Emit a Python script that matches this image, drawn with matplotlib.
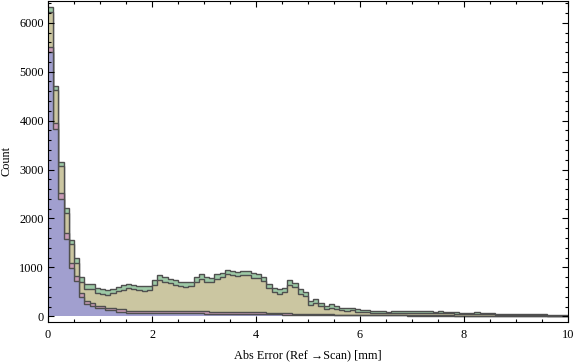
import numpy as np
import matplotlib
matplotlib.use("Agg")
import matplotlib.pyplot as plt
from matplotlib.ticker import MultipleLocator

plt.rcParams['font.family'] = ['Liberation Serif', 'DejaVu Serif']

bin_edges = [round(0.1 * i, 1) for i in range(101)]

green = [6318, 4700, 3155, 2204, 1557, 1184, 796, 653, 653, 571,
         551, 540, 560, 600, 630, 660, 650, 620, 615, 620,
         735, 835, 800, 770, 735, 700, 695, 700, 800, 860,
         800, 790, 860, 890, 955, 925, 910, 925, 935, 880,
         870, 810, 655, 585, 550, 585, 735, 690, 550, 505,
         315, 345, 280, 220, 245, 210, 175, 165, 175, 140,
         130, 122, 108, 115, 100, 95, 105, 110, 100, 110,
         105, 108, 100, 105, 95, 100, 95, 90, 80, 70,
         75, 65, 80, 70, 60, 62, 55, 50, 50, 45,
         45, 45, 45, 45, 45, 40, 25, 25, 25, 25]

tan = [6230, 4633, 3067, 2114, 1469, 1082, 706, 560, 560, 470,
       455, 445, 470, 510, 540, 570, 560, 530, 525, 530,
       640, 740, 705, 680, 645, 610, 605, 610, 710, 770,
       710, 700, 770, 800, 865, 835, 820, 835, 845, 790,
       780, 720, 570, 500, 465, 500, 650, 605, 465, 420,
       240, 270, 210, 155, 180, 150, 120, 110, 120, 95,
       85, 80, 70, 75, 65, 60, 70, 75, 65, 75,
       70, 72, 65, 70, 62, 65, 60, 58, 50, 45,
       48, 40, 50, 45, 38, 40, 35, 32, 30, 28,
       28, 28, 28, 28, 28, 25, 15, 15, 15, 15]

pink = [5500, 3945, 2530, 1694, 1082, 822, 469, 318, 265, 210,
        210, 176, 176, 142, 142, 115, 115, 115, 115, 115,
        115, 100, 100, 100, 100, 100, 100, 100, 100, 100,
        100, 95, 95, 95, 95, 90, 90, 90, 85, 85,
        80, 80, 75, 70, 65, 60, 60, 55, 50, 50,
        45, 45, 40, 40, 40, 35, 35, 35, 35, 30,
        30, 30, 28, 28, 26, 26, 25, 25, 24, 24,
        22, 22, 20, 20, 20, 18, 18, 18, 16, 16,
        15, 15, 14, 14, 13, 13, 12, 12, 11, 11,
        10, 10, 9, 9, 8, 8, 7, 7, 6, 6]

blue = [5400, 3837, 2408, 1571, 980, 727, 388, 244, 210, 163,
        163, 129, 129, 95, 95, 70, 68, 67, 66, 66,
        65, 65, 64, 63, 62, 62, 60, 60, 58, 58,
        56, 55, 55, 54, 52, 52, 50, 50, 48, 47,
        45, 44, 42, 40, 38, 36, 35, 34, 32, 30,
        30, 28, 28, 26, 26, 25, 25, 24, 24, 22,
        22, 20, 20, 19, 19, 18, 18, 17, 17, 16,
        16, 15, 15, 14, 14, 13, 13, 12, 12, 11,
        11, 10, 10, 9, 9, 8, 8, 8, 7, 7,
        6, 6, 6, 5, 5, 5, 4, 4, 4, 3]

series = [green, tan, pink, blue]
colors = ['#9DC9A6', '#CBC6A1', '#C89BB6', '#A19FCF']
edge = '#4F4F4F'

fig = plt.figure(figsize=(5.76, 3.62), dpi=100)
ax = fig.add_axes([48/576, 1 - 321.7/362, 520/576, 320.7/362])

for vals, c in zip(series, colors):
    ax.stairs(vals, bin_edges, baseline=0, fill=True, facecolor=c,
              edgecolor='none', linewidth=0)
    ax.stairs(vals, bin_edges, baseline=None, fill=False, color=edge,
              linewidth=1.0)

ax.set_xlim(0, 10)
ax.set_ylim(-110, 6445)
ax.xaxis.set_major_locator(MultipleLocator(2))
ax.xaxis.set_minor_locator(MultipleLocator(0.5))
ax.yaxis.set_major_locator(MultipleLocator(1000))
ax.yaxis.set_minor_locator(MultipleLocator(200))
ax.tick_params(which='both', direction='in', top=True, right=True,
               labelsize=8.8, color='black', width=0.8)
ax.tick_params(which='major', length=4.5)
ax.tick_params(which='minor', length=2.5)
ax.tick_params(axis='x', pad=5)
ax.tick_params(axis='y', pad=3)
for s in ax.spines.values():
    s.set_linewidth(0.8)
    s.set_color('black')

ax.set_xlabel('Abs Error (Ref \u2192Scan) [mm]', fontsize=8.8, labelpad=6)
ax.set_ylabel('Count', fontsize=8.8, labelpad=5)

fig.savefig('out.png', dpi=100)
